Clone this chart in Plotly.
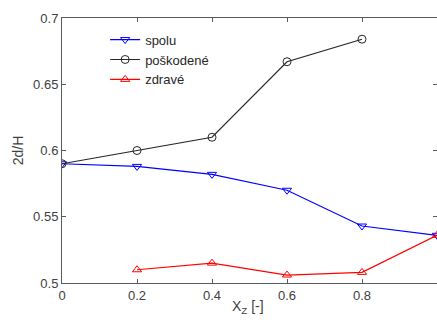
import plotly.graph_objects as go

x = [0, 0.2, 0.4, 0.6, 0.8, 1.0]
spolu = [0.590, 0.588, 0.582, 0.570, 0.543, 0.536]
x_posk = [0, 0.2, 0.4, 0.6, 0.8]
poskodene = [0.590, 0.600, 0.610, 0.667, 0.684]
x_zdr = [0.2, 0.4, 0.6, 0.8, 1.0]
zdrave = [0.510, 0.515, 0.506, 0.508, 0.536]

x_ticks = [0, 0.2, 0.4, 0.6, 0.8, 1.0]
x_ticklabels = ["0", "0.2", "0.4", "0.6", "0.8", "1"]
y_ticks = [0.5, 0.55, 0.6, 0.65, 0.7]
y_ticklabels = ["0.5", "0.55", "0.6", "0.65", "0.7"]

fig = go.Figure()
fig.add_trace(go.Scatter(x=x, y=spolu, name="spolu", mode="lines+markers",
                         line=dict(color="#0000ff", width=1.2),
                         marker=dict(symbol="triangle-down-open", size=8, color="#0000ff")))
fig.add_trace(go.Scatter(x=x_posk, y=poskodene, name="poškodené", mode="lines+markers",
                         line=dict(color="#262626", width=1.2),
                         marker=dict(symbol="circle-open", size=8, color="#262626")))
fig.add_trace(go.Scatter(x=x_zdr, y=zdrave, name="zdravé", mode="lines+markers",
                         line=dict(color="#ff0000", width=1.2),
                         marker=dict(symbol="triangle-up-open", size=8, color="#ff0000")))

axis_common = dict(showline=True, linecolor="#5a5a5a", linewidth=1, mirror="ticks",
                   ticks="inside", ticklen=4, tickcolor="#5a5a5a", showgrid=False,
                   zeroline=False, automargin=False,
                   tickfont=dict(family="Liberation Sans, Arial", size=13, color="#404040"))

fig.update_layout(
    width=437, height=326,
    margin=dict(l=62, r=0, t=18, b=43),
    paper_bgcolor="white", plot_bgcolor="white",
    font=dict(family="Liberation Sans, Arial", size=13, color="#404040"),
    xaxis=dict(range=[0, 1], tickvals=x_ticks, ticktext=x_ticklabels, **axis_common),
    yaxis=dict(range=[0.5, 0.7], tickvals=y_ticks, ticktext=y_ticklabels,
               title=dict(text="2d/H", standoff=6, font=dict(size=14)), **axis_common),
    legend=dict(x=0.115, y=0.975, xanchor="left", yanchor="top", bgcolor="rgba(0,0,0,0)",
                font=dict(size=13, color="#262626"), tracegroupgap=0, itemwidth=30),
    showlegend=True,
    annotations=[dict(text="X<sub>Z</sub> [-]", x=0.496, y=0, xref="paper", yref="paper",
                      xanchor="center", yanchor="top", yshift=-13, showarrow=False,
                      font=dict(size=14, color="#404040"))],
)

fig.write_html("out.html", config={"displayModeBar": False},
               post_script="document.body.style.margin='0';document.body.style.overflow='hidden';")
